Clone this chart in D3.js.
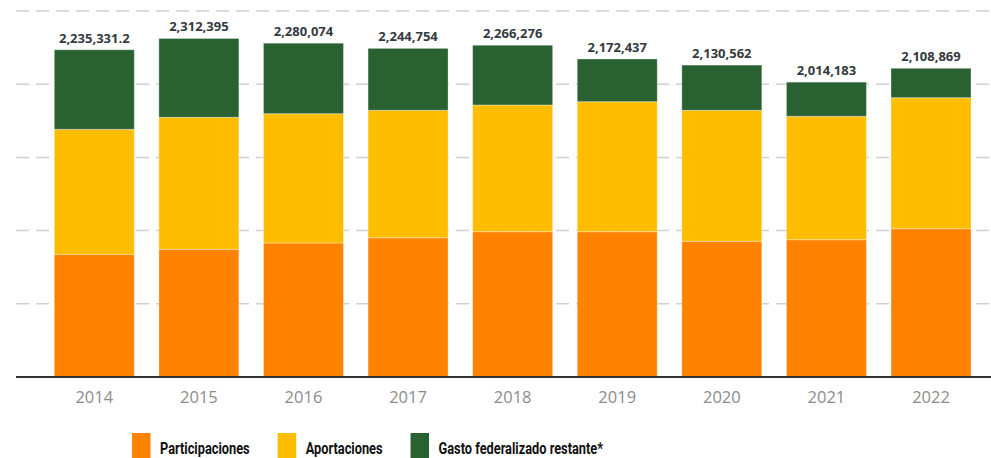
<!DOCTYPE html>
<html><head><meta charset="utf-8">
<script src="https://cdn.jsdelivr.net/npm/d3@7"></script>
<style>
html,body{margin:0;padding:0;background:#fff;}
svg{display:block;}
</style></head>
<body><svg id="c" width="991" height="458"></svg>
<script>
const years = ["2014","2015","2016","2017","2018","2019","2020","2021","2022"];
const participaciones = [838100, 872300, 915300, 951500, 992500, 992500, 926900, 937800, 1013000];
const aportaciones   = [853800, 901600, 883200, 870200, 865400, 888000, 894800, 842900, 894800];
const totals = [2235331.2, 2312395, 2280074, 2244754, 2266276, 2172437, 2130562, 2014183, 2108869];
const totalLabels = ["2,235,331.2","2,312,395","2,280,074","2,244,754","2,266,276","2,172,437","2,130,562","2,014,183","2,108,869"];
const gastoRestante = totals.map((t,i)=>t - participaciones[i] - aportaciones[i]);
const seriesNames = ["Participaciones","Aportaciones","Gasto federalizado restante*"];
const seriesKeys = ["p","a","g"];
const colors = ["#FF8300","#FFBD00","#2A6131"];
const yTicks = [0, 500000, 1000000, 1500000, 2000000, 2500000];

const rows = years.map((y,i)=>({year:y, p:participaciones[i], a:aportaciones[i], g:gastoRestante[i], total:totals[i], label:totalLabels[i]}));

const svg = d3.select("#c");
const x = d3.scaleBand().domain(years).range([42, 983.3]).paddingInner(0.235).paddingOuter(0.1175);
const y = d3.scaleLinear().domain([0, 2500000]).range([377, 11]);

// grid
svg.append("g").selectAll("line").data(yTicks.slice(1)).join("line")
  .attr("x1",16).attr("x2",991)
  .attr("y1",d=>y(d)).attr("y2",d=>y(d))
  .attr("stroke","#d0d0d0").attr("stroke-width",1.5).attr("stroke-dasharray","13,7");

const stack = d3.stack().keys(seriesKeys)(rows);
svg.append("g").selectAll("g").data(stack).join("g")
  .attr("fill",(d,i)=>colors[i])
  .selectAll("rect").data(d=>d).join("rect")
  .attr("x",d=>x(d.data.year))
  .attr("width",x.bandwidth())
  .attr("y",d=>y(d[1]))
  .attr("height",d=>y(d[0])-y(d[1]))
  .attr("stroke","rgba(255,255,255,0.35)").attr("stroke-width",1);

// axis
const xAxis = d3.axisBottom(x).tickSize(0).tickPadding(14);
const ax = svg.append("g").attr("transform","translate(0,377)").call(xAxis);
ax.select(".domain").remove();
ax.selectAll("text").attr("font-family","'Open Sans', sans-serif").attr("font-size","16.5px").attr("fill","#8c8c8c");
svg.append("line").attr("x1",16).attr("x2",991).attr("y1",377).attr("y2",377).attr("stroke","#333").attr("stroke-width",2);

// total labels
svg.append("g").selectAll("text").data(rows).join("text")
  .attr("x",d=>x(d.year)+x.bandwidth()/2)
  .attr("y",d=>y(d.total)-7)
  .attr("text-anchor","middle")
  .attr("font-family","'Open Sans', sans-serif").attr("font-weight","bold").attr("font-size","13px")
  .attr("fill","#333a40")
  .attr("stroke","#fff").attr("stroke-width",3).attr("paint-order","stroke").attr("stroke-linejoin","round")
  .text(d=>d.label);

// legend (sequential layout)
const legend = svg.append("g").attr("transform","translate(132,433)");
const sx = 0.8;
let cx = 0;
seriesNames.forEach((name,i)=>{
  const g = legend.append("g").attr("transform",`translate(${cx},0)`);
  g.append("rect").attr("width",18.5).attr("height",26).attr("fill",colors[i]);
  const t = g.append("text").attr("transform",`translate(28,20.5) scale(${sx},1)`)
    .attr("font-family","Roboto, sans-serif")
    .attr("font-weight","bold").attr("font-size","16px").attr("fill","#111")
    .text(name);
  const w = t.node().getComputedTextLength()*sx;
  cx += 28 + w + 28;
});
</script></body></html>
